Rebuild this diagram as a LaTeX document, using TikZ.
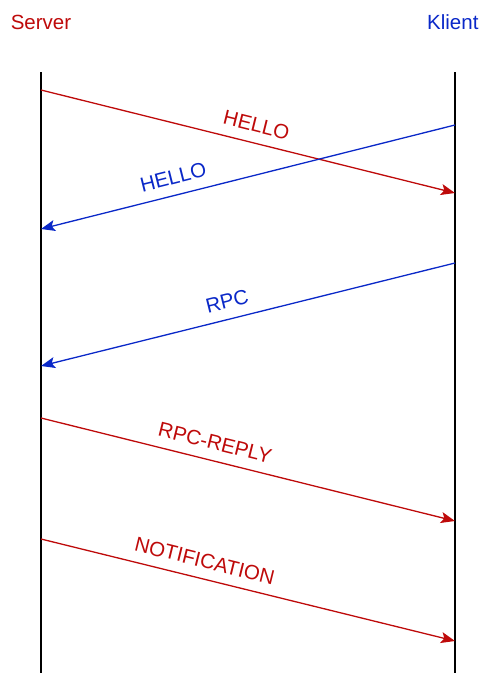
\documentclass[tikz,border=0pt]{standalone}
\usepackage{fontspec}
\setmainfont{Liberation Sans}
\usetikzlibrary{arrows.meta}
\definecolor{srvred}{RGB}{190,10,10}
\definecolor{clblue}{RGB}{10,40,200}
\tikzset{
  lifeline/.style={line width=1.4pt, black},
  msg/.style={line width=1.3pt, -{Stealth[length=14pt, width=11pt, inset=3pt]}},
  lbl/.style={sloped, above=8pt, font=\fontsize{20.5}{24}\selectfont, inner sep=2pt},
}
\begin{document}
\begin{tikzpicture}[x=1pt, y=-1pt]
    \useasboundingbox (0, 0) rectangle (481, 673);

    \def\xs{41}
    \def\xk{455}

    \node[srvred, font=\fontsize{20.5}{24}\selectfont] (server) at (\xs, 22) {Server};
    \node[clblue, font=\fontsize{20.5}{24}\selectfont, anchor=east] (klient) at (482, 22) {Klient};

    \coordinate (stop) at (\xs, 72);
    \coordinate (sbot) at (\xs, 673);
    \coordinate (ktop) at (\xk, 72);
    \coordinate (kbot) at (\xk, 673);
    \draw[lifeline] (stop) -- (sbot);
    \draw[lifeline] (ktop) -- (kbot);

    % message end points
    \coordinate (s1) at (\xs, 90);   \coordinate (k1) at (\xk, 193);
    \coordinate (k2) at (\xk, 125);  \coordinate (s2) at (\xs, 229);
    \coordinate (k3) at (\xk, 263);  \coordinate (s3) at (\xs, 366);
    \coordinate (s4) at (\xs, 418);  \coordinate (k4) at (\xk, 521);
    \coordinate (s5) at (\xs, 539);  \coordinate (k5) at (\xk, 641);

    \draw[msg, srvred] (s1) -- (k1) node[lbl, pos=0.51] {HELLO};
    \draw[msg, clblue] (k2) -- (s2) node[lbl, pos=0.67] {HELLO};
    \draw[msg, clblue] (k3) -- (s3) node[lbl, pos=0.54] {RPC};
    \draw[msg, srvred] (s4) -- (k4) node[lbl, pos=0.41] {RPC-REPLY};
    \draw[msg, srvred] (s5) -- (k5) node[lbl, pos=0.385] {NOTIFICATION};
\end{tikzpicture}
\end{document}
